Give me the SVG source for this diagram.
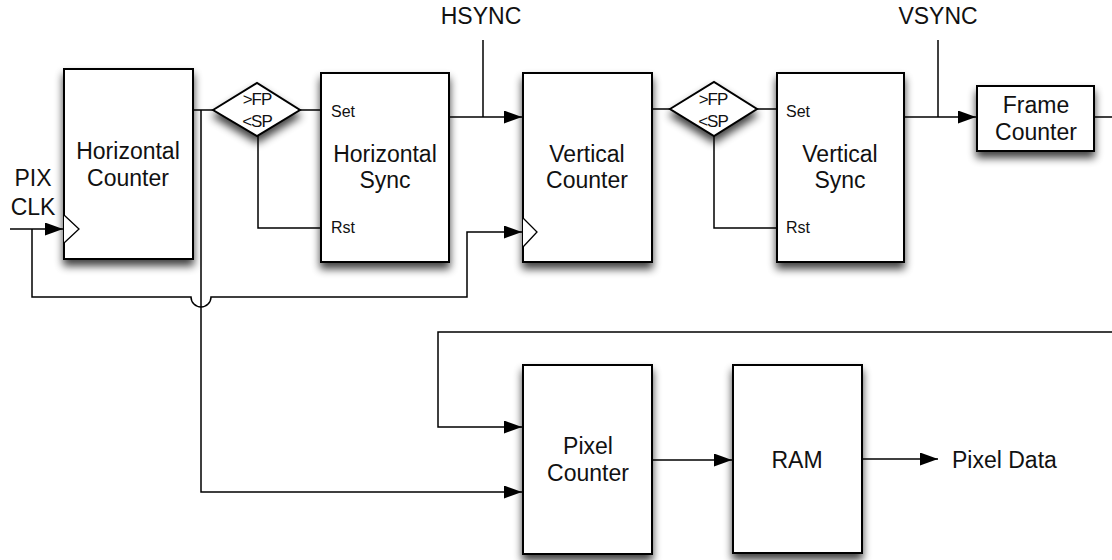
<svg xmlns="http://www.w3.org/2000/svg" width="1112" height="560" viewBox="0 0 1112 560">
  <style>
    .box { fill: #ffffff; stroke: #000000; stroke-width: 2; filter: url(#shadow); }
    .wire { fill: none; stroke: #000000; stroke-width: 1.5; }
    .clk { fill: #ffffff; stroke: #000000; stroke-width: 1.3; }
    .lbl { font-family: "Liberation Sans", Arial, Helvetica, sans-serif; font-size: 23px; fill: #111111; text-anchor: middle; }
    .pin { font-family: "Liberation Sans", Arial, Helvetica, sans-serif; font-size: 16px; fill: #111111; }
    .cmp { font-family: "Liberation Sans", Arial, Helvetica, sans-serif; font-size: 17px; fill: #111111; text-anchor: middle; letter-spacing: -1px; }
  </style>
  <defs>
    <filter id="shadow" x="-20%" y="-20%" width="140%" height="150%">
      <feGaussianBlur in="SourceAlpha" stdDeviation="4"/>
      <feOffset dx="0" dy="6"/>
      <feComponentTransfer><feFuncA type="linear" slope="0.75"/></feComponentTransfer>
      <feMerge><feMergeNode/><feMergeNode in="SourceGraphic"/></feMerge>
    </filter>
    <marker id="arrow" markerUnits="userSpaceOnUse" markerWidth="18" markerHeight="13" refX="18" refY="6.5" orient="auto">
      <path d="M0,0 L18,6.5 L0,13 Z" fill="#000000"/>
    </marker>
  </defs>

  <rect width="1112" height="560" fill="#ffffff"/>

  <!-- connectors -->
  <g id="connectors">
    <!-- pixel clock into horizontal counter -->
    <path class="wire" d="M10,229 H63" marker-end="url(#arrow)"/>
    <!-- pixel clock loop to vertical counter clock, hopping over the count bus -->
    <path class="wire" d="M32,229 V297 H191 A10,10 0 0 0 211,297 H467 V232 H522" marker-end="url(#arrow)"/>
    <!-- horizontal count to comparator and pixel counter -->
    <path class="wire" d="M193,110 H213"/>
    <path class="wire" d="M201,110 V492 H522" marker-end="url(#arrow)"/>
    <!-- comparator 1 to horizontal sync -->
    <path class="wire" d="M300,110 H321"/>
    <path class="wire" d="M258,136 V228 H321"/>
    <!-- horizontal sync out -->
    <path class="wire" d="M449,117 H522" marker-end="url(#arrow)"/>
    <path class="wire" d="M483,40 V117"/>
    <!-- vertical counter to comparator 2 -->
    <path class="wire" d="M652,109 H670"/>
    <path class="wire" d="M757,109 H777"/>
    <path class="wire" d="M714,136 V228 H777"/>
    <!-- vertical sync out -->
    <path class="wire" d="M904,117 H976" marker-end="url(#arrow)"/>
    <path class="wire" d="M938,40 V117"/>
    <!-- frame counter out -->
    <path class="wire" d="M1094,117 H1112"/>
    <!-- frame feedback into pixel counter -->
    <path class="wire" d="M1112,332 H438 V427 H522" marker-end="url(#arrow)"/>
    <!-- pixel counter to RAM, RAM to output -->
    <path class="wire" d="M652,460 H732" marker-end="url(#arrow)"/>
    <path class="wire" d="M862,459 H938" marker-end="url(#arrow)"/>
  </g>

  <g id="horizontal-counter">
    <rect class="box" x="64" y="69" width="129" height="190"/>
    <path class="clk" d="M64,215 L79,229 L64,243"/>
    <text class="lbl" x="128" y="159">Horizontal</text>
    <text class="lbl" x="128" y="186">Counter</text>
  </g>

  <g id="pix-clk">
    <text class="lbl" x="33" y="186">PIX</text>
    <text class="lbl" x="33" y="215">CLK</text>
  </g>

  <g id="h-compare">
    <polygon class="box" points="213,110 257,83 300,110 257,136" stroke-width="1.5"/>
    <text class="cmp" x="257" y="105">&gt;FP</text>
    <text class="cmp" x="257" y="127">&lt;SP</text>
  </g>

  <g id="horizontal-sync">
    <rect class="box" x="321" y="73" width="128" height="189"/>
    <text class="pin" x="331" y="117">Set</text>
    <text class="pin" x="331" y="233">Rst</text>
    <text class="lbl" x="385" y="162">Horizontal</text>
    <text class="lbl" x="385" y="188">Sync</text>
  </g>

  <g id="hsync-label">
    <text class="lbl" x="481" y="24">HSYNC</text>
  </g>

  <g id="vertical-counter">
    <rect class="box" x="523" y="73" width="129" height="189"/>
    <path class="clk" d="M523,218 L537,232 L523,247"/>
    <text class="lbl" x="587" y="162">Vertical</text>
    <text class="lbl" x="587" y="188">Counter</text>
  </g>

  <g id="v-compare">
    <polygon class="box" points="670,109 714,82 757,109 714,136" stroke-width="1.5"/>
    <text class="cmp" x="713" y="105">&gt;FP</text>
    <text class="cmp" x="713" y="127">&lt;SP</text>
  </g>

  <g id="vertical-sync">
    <rect class="box" x="777" y="73" width="127" height="189"/>
    <text class="pin" x="786" y="117">Set</text>
    <text class="pin" x="786" y="233">Rst</text>
    <text class="lbl" x="840" y="162">Vertical</text>
    <text class="lbl" x="840" y="188">Sync</text>
  </g>

  <g id="vsync-label">
    <text class="lbl" x="938" y="24">VSYNC</text>
  </g>

  <g id="frame-counter">
    <rect class="box" x="977" y="86" width="117" height="65"/>
    <text class="lbl" x="1036" y="113">Frame</text>
    <text class="lbl" x="1036" y="140">Counter</text>
  </g>

  <g id="pixel-counter">
    <rect class="box" x="523" y="365" width="129" height="189"/>
    <text class="lbl" x="588" y="454">Pixel</text>
    <text class="lbl" x="588" y="481">Counter</text>
  </g>

  <g id="ram">
    <rect class="box" x="733" y="365" width="129" height="188"/>
    <text class="lbl" x="797" y="468">RAM</text>
  </g>

  <g id="pixel-data">
    <text class="lbl" x="952" y="468" style="text-anchor:start">Pixel Data</text>
  </g>
</svg>
